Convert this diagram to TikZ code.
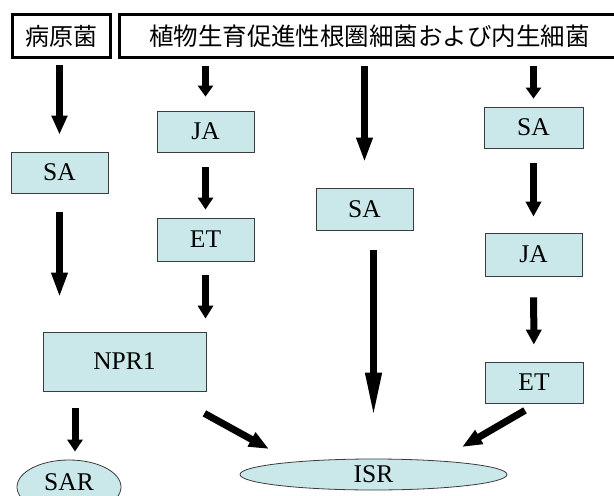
\documentclass[tikz,border=0pt]{standalone}
\usepackage{fontspec}
\setmainfont{Liberation Serif}
\newfontfamily\jpfont{Noto Sans CJK JP}
\usetikzlibrary{arrows.meta,shapes.geometric,calc}
\definecolor{celeste}{RGB}{202,232,233}
\definecolor{borde}{RGB}{60,60,60}

\tikzset{
  caja/.style={draw=borde,line width=0.8pt,fill=celeste,minimum width=97pt,
    minimum height=41pt,inner sep=0pt,font=\fontsize{25.5}{28}\selectfont},
  elipse/.style={ellipse,draw=borde,line width=0.8pt,fill=celeste,inner sep=0pt,
    font=\fontsize{25.5}{28}\selectfont},
  titulo/.style={draw,line width=3pt,fill=white,inner sep=0pt,minimum height=43pt,
    font=\jpfont\fontsize{24}{28}\selectfont},
  flecha/.style={line width=7pt,-{Triangle[length=#1,width=15pt]}},
  flecha/.default=15pt
}

\begin{document}
\begin{tikzpicture}[x=1pt,y=-1pt]
  \useasboundingbox (0,0) rectangle (614,496);

  % encabezados
  \node[titulo,minimum width=98pt] (pat) at (61.5,36) {病原菌};
  \node[titulo,minimum width=500pt,font=\jpfont\fontsize{24.5}{28}\selectfont]
    (pgpr) at (369.5,36) {植物生育促進性根圏細菌および内生細菌};

  % cajas
  \node[caja] (sa1) at (59.5,172.5) {SA};
  \node[caja] (ja1) at (205.5,131.5) {JA};
  \node[caja,minimum height=43pt] (et1) at (205.5,239.5) {ET};
  \node[caja,minimum width=163pt,minimum height=59pt] (npr) at (124.5,361.5) {NPR1};
  \node[caja,minimum height=42pt] (sa2) at (364.5,209) {SA};
  \node[caja,minimum width=99pt] (sa3) at (533.5,127.5) {SA};
  \node[caja,minimum height=43pt] (ja3) at (533.5,254.5) {JA};
  \node[caja,minimum width=98pt] (et3) at (534,382.5) {ET};

  % elipses
  \node[elipse,minimum width=104pt,minimum height=54pt] (sar) at (69,487)
    {\raisebox{-3pt}[0pt][0pt]{SAR}};
  \node[elipse,minimum width=267pt,minimum height=31pt] (isr) at (373.5,474.5) {ISR};

  % flechas
  \draw[flecha=19pt,shorten <=6pt,shorten >=17pt] (pat.south -| sa1.north) -- (sa1.north);
  \draw[flecha=25pt,shorten <=19pt,shorten >=34pt] (sa1.south) -- (sa1.south |- npr.north);
  \draw[flecha=11pt,shorten <=7pt,shorten >=14pt] (pgpr.south -| ja1.north) -- (ja1.north);
  \draw[flecha=12pt,shorten <=15pt,shorten >=8pt] (ja1) -- (et1);
  \draw[flecha=13pt,shorten <=14pt,shorten >=13pt] (et1.south) -- (et1.south |- npr.north);
  \draw[flecha=12pt,shorten <=17pt,shorten >=8pt]
    ([xshift=6pt]sar.north |- npr.south) -- ([xshift=6pt]sar.north);
  \draw[flecha=20pt] ($(npr.south east)+(-2,22)$) -- ($(isr.center)+(-104.5,-25.5)$);
  \draw[flecha=25pt,shorten <=7pt,shorten >=25pt] (pgpr.south -| sa2.north) -- (sa2.north);
  \draw[flecha=45pt,shorten <=20pt,shorten >=41pt] (isr.north |- sa2.south) -- (isr.north);
  \draw[flecha=11pt,shorten <=7pt,shorten >=8pt] (pgpr.south -| sa3.north) -- (sa3.north);
  \draw[flecha=15pt,shorten <=15pt,shorten >=16pt] (sa3) -- (ja3);
  \draw[flecha=15pt,shorten <=21pt,shorten >=17pt] (ja3) -- (et3);
  \draw[flecha=20pt] ($(et3.south)+(-9,7)$) -- ($(isr.center)+(88.5,-27.5)$);
\end{tikzpicture}
\end{document}
